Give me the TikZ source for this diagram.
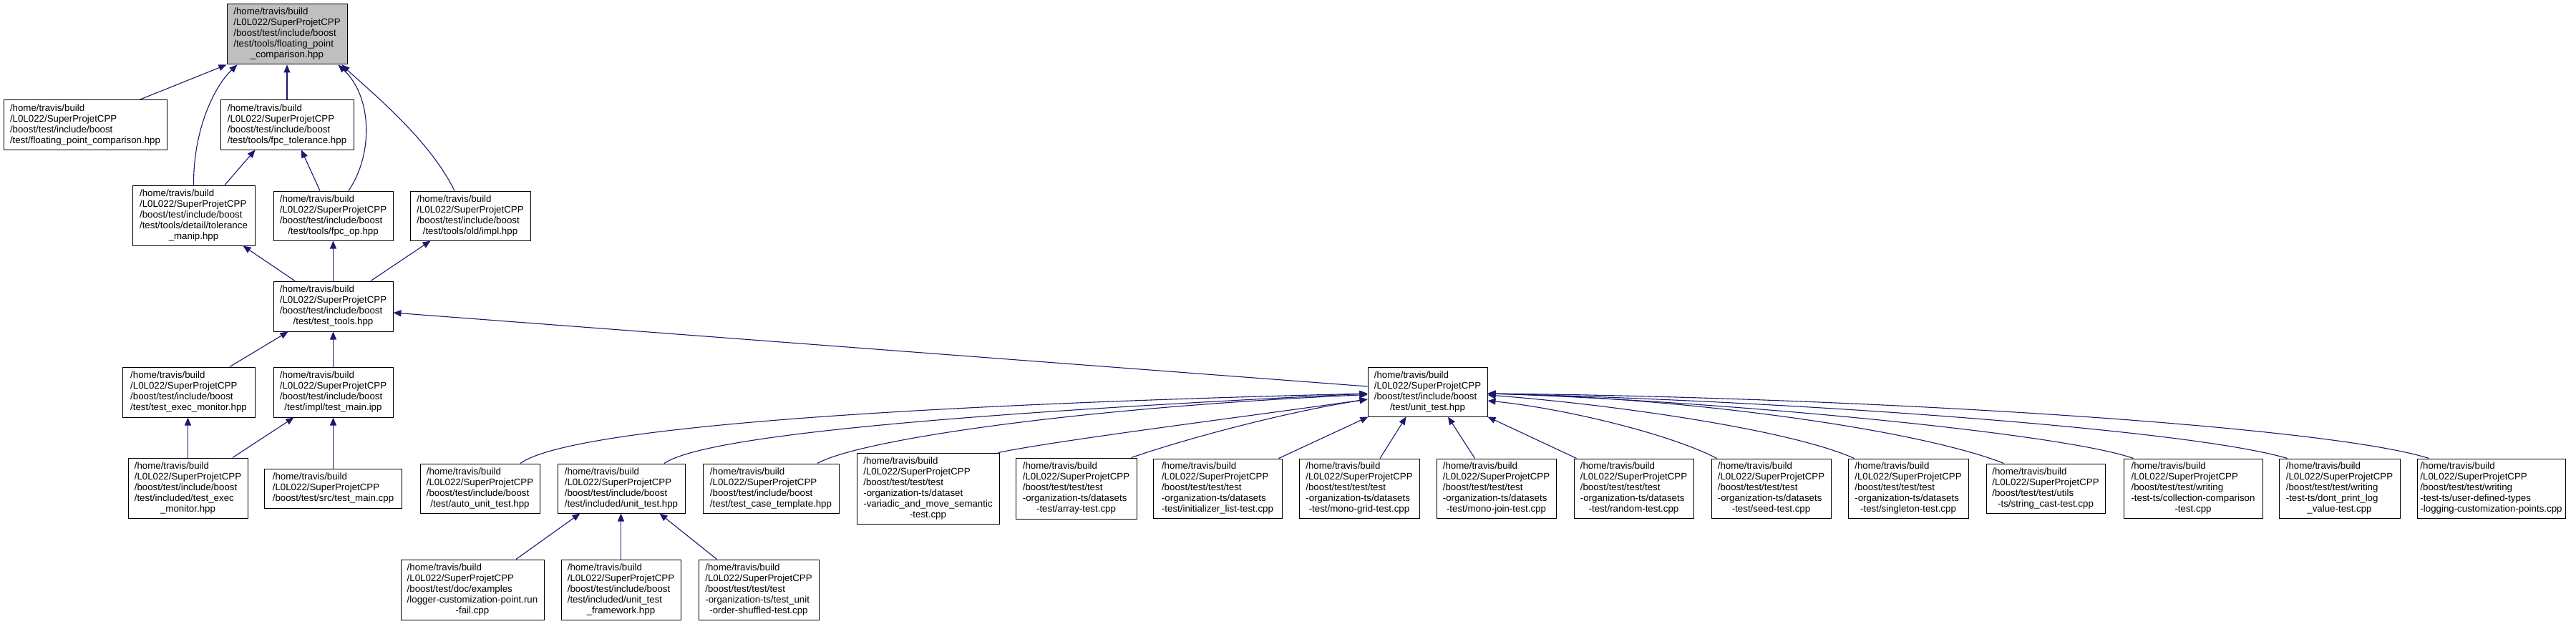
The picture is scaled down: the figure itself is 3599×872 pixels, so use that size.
\documentclass[tikz,border=0pt]{standalone}
\usepackage{fontspec}
\setmainfont{Liberation Sans}
\usetikzlibrary{arrows.meta}
\definecolor{edgec}{HTML}{191970}
\definecolor{hl}{HTML}{BFBFBF}
\newcommand{\lab}[2]{\begin{tabular}{@{}l@{}}#1\\\multicolumn{1}{@{}c@{}}{#2}\end{tabular}}
\begin{document}
\begin{tikzpicture}[x=1pt,y=-1pt,
  font=\fontsize{13.3}{15}\selectfont,
  box/.style={draw=black, line width=1pt, fill=white, inner sep=0pt, anchor=center},
  edge/.style={draw=edgec, line width=1.1pt, -{Triangle[length=11pt,width=9pt]}}]
\useasboundingbox (0,0) rectangle (3599,872);
% nodes
\node[box, fill=hl, minimum width=168pt, minimum height=84pt] (top) at (401,48)
 {\lab{/home/travis/build\\/L0L022/SuperProjetCPP\\/boost/test/include/boost\\/test/tools/floating\_point}{\_comparison.hpp}};
\node[box, minimum width=228pt, minimum height=69pt] (fpct) at (119,174.5)
 {\lab{/home/travis/build\\/L0L022/SuperProjetCPP\\/boost/test/include/boost}{/test/floating\_point\_comparison.hpp}};
\node[box, minimum width=186pt, minimum height=69pt] (fpctol) at (401,174.5)
 {\lab{/home/travis/build\\/L0L022/SuperProjetCPP\\/boost/test/include/boost}{/test/tools/fpc\_tolerance.hpp}};
\node[box, minimum width=171pt, minimum height=84pt] (tolm) at (270.5,301)
 {\lab{/home/travis/build\\/L0L022/SuperProjetCPP\\/boost/test/include/boost\\/test/tools/detail/tolerance}{\_manip.hpp}};
\node[box, minimum width=167pt, minimum height=69pt] (fpcop) at (465.5,301.5)
 {\lab{/home/travis/build\\/L0L022/SuperProjetCPP\\/boost/test/include/boost}{/test/tools/fpc\_op.hpp}};
\node[box, minimum width=168pt, minimum height=69pt] (oldimpl) at (657,301.5)
 {\lab{/home/travis/build\\/L0L022/SuperProjetCPP\\/boost/test/include/boost}{/test/tools/old/impl.hpp}};
\node[box, minimum width=167pt, minimum height=70pt] (ttools) at (465.5,428)
 {\lab{/home/travis/build\\/L0L022/SuperProjetCPP\\/boost/test/include/boost}{/test/test\_tools.hpp}};
\node[box, minimum width=185pt, minimum height=70pt] (tem) at (263.5,548)
 {\lab{/home/travis/build\\/L0L022/SuperProjetCPP\\/boost/test/include/boost}{/test/test\_exec\_monitor.hpp}};
\node[box, minimum width=167pt, minimum height=70pt] (tmipp) at (465.5,548)
 {\lab{/home/travis/build\\/L0L022/SuperProjetCPP\\/boost/test/include/boost}{/test/impl/test\_main.ipp}};
\node[box, minimum width=167pt, minimum height=84pt] (temi) at (262.5,682)
 {\lab{/home/travis/build\\/L0L022/SuperProjetCPP\\/boost/test/include/boost\\/test/included/test\_exec}{\_monitor.hpp}};
\node[box, minimum width=192pt, minimum height=55pt] (tmcpp) at (465.5,682.5)
 {\lab{/home/travis/build\\/L0L022/SuperProjetCPP}{/boost/test/src/test\_main.cpp}};
\node[box, minimum width=167pt, minimum height=69pt] (ut) at (1994.5,547.5)
 {\lab{/home/travis/build\\/L0L022/SuperProjetCPP\\/boost/test/include/boost}{/test/unit\_test.hpp}};
\node[box, minimum width=167pt, minimum height=69pt] (auto) at (670.5,682.5)
 {\lab{/home/travis/build\\/L0L022/SuperProjetCPP\\/boost/test/include/boost}{/test/auto\_unit\_test.hpp}};
\node[box, minimum width=178pt, minimum height=69pt] (iut) at (868,682.5)
 {\lab{/home/travis/build\\/L0L022/SuperProjetCPP\\/boost/test/include/boost}{/test/included/unit\_test.hpp}};
\node[box, minimum width=190pt, minimum height=69pt] (tct) at (1077,682.5)
 {\lab{/home/travis/build\\/L0L022/SuperProjetCPP\\/boost/test/include/boost}{/test/test\_case\_template.hpp}};
\node[box, minimum width=199pt, minimum height=99pt] (vari) at (1296.5,682.5)
 {\lab{/home/travis/build\\/L0L022/SuperProjetCPP\\/boost/test/test/test\\-organization-ts/dataset\\-variadic\_and\_move\_semantic}{-test.cpp}};
\node[box, minimum width=169pt, minimum height=85pt] (array) at (1503.5,682.5)
 {\lab{/home/travis/build\\/L0L022/SuperProjetCPP\\/boost/test/test/test\\-organization-ts/datasets}{-test/array-test.cpp}};
\node[box, minimum width=180pt, minimum height=83pt] (init) at (1701,682.5)
 {\lab{/home/travis/build\\/L0L022/SuperProjetCPP\\/boost/test/test/test\\-organization-ts/datasets}{-test/initializer\_list-test.cpp}};
\node[box, minimum width=168pt, minimum height=83pt] (grid) at (1899,682.5)
 {\lab{/home/travis/build\\/L0L022/SuperProjetCPP\\/boost/test/test/test\\-organization-ts/datasets}{-test/mono-grid-test.cpp}};
\node[box, minimum width=167pt, minimum height=83pt] (join) at (2090.5,682.5)
 {\lab{/home/travis/build\\/L0L022/SuperProjetCPP\\/boost/test/test/test\\-organization-ts/datasets}{-test/mono-join-test.cpp}};
\node[box, minimum width=167pt, minimum height=83pt] (random) at (2282.5,682.5)
 {\lab{/home/travis/build\\/L0L022/SuperProjetCPP\\/boost/test/test/test\\-organization-ts/datasets}{-test/random-test.cpp}};
\node[box, minimum width=167pt, minimum height=83pt] (seed) at (2474.5,682.5)
 {\lab{/home/travis/build\\/L0L022/SuperProjetCPP\\/boost/test/test/test\\-organization-ts/datasets}{-test/seed-test.cpp}};
\node[box, minimum width=168pt, minimum height=83pt] (single) at (2666,682.5)
 {\lab{/home/travis/build\\/L0L022/SuperProjetCPP\\/boost/test/test/test\\-organization-ts/datasets}{-test/singleton-test.cpp}};
\node[box, minimum width=166pt, minimum height=69pt] (strc) at (2858,682.5)
 {\lab{/home/travis/build\\/L0L022/SuperProjetCPP\\/boost/test/test/utils}{-ts/string\_cast-test.cpp}};
\node[box, minimum width=194pt, minimum height=83pt] (coll) at (3064,682.5)
 {\lab{/home/travis/build\\/L0L022/SuperProjetCPP\\/boost/test/test/writing\\-test-ts/collection-comparison}{-test.cpp}};
\node[box, minimum width=169pt, minimum height=83pt] (dont) at (3268.5,682.5)
 {\lab{/home/travis/build\\/L0L022/SuperProjetCPP\\/boost/test/test/writing\\-test-ts/dont\_print\_log}{\_value-test.cpp}};
\node[box, minimum width=207pt, minimum height=83pt] (userdef) at (3480.5,682.5)
 {\lab{/home/travis/build\\/L0L022/SuperProjetCPP\\/boost/test/test/writing\\-test-ts/user-defined-types}{-logging-customization-points.cpp}};
\node[box, minimum width=200pt, minimum height=84pt] (logger) at (660,824)
 {\lab{/home/travis/build\\/L0L022/SuperProjetCPP\\/boost/test/doc/examples\\/logger-customization-point.run}{-fail.cpp}};
\node[box, minimum width=167pt, minimum height=84pt] (utf) at (867.5,824)
 {\lab{/home/travis/build\\/L0L022/SuperProjetCPP\\/boost/test/include/boost\\/test/included/unit\_test}{\_framework.hpp}};
\node[box, minimum width=168pt, minimum height=84pt] (shuf) at (1060,824)
 {\lab{/home/travis/build\\/L0L022/SuperProjetCPP\\/boost/test/test/test\\-organization-ts/test\_unit}{-order-shuffled-test.cpp}};
% edges (upper part)
\draw[edge] ([xshift=190pt]fpct.north west) -- (top.south west);
\draw[edge] (tolm.north) .. controls (270,180) and (300,120) .. ([xshift=15pt]top.south west);
\draw[edge] (fpctol.north) -- (top.south);
\draw[edge] ([xshift=21.5pt]fpcop.north) .. controls (522,215) and (520,135) .. ([xshift=-13pt]top.south east);
\draw[edge] ([xshift=-22pt]oldimpl.north) .. controls (600,195) and (520,130) .. ([xshift=-8pt]top.south east);
\draw[edge] ([xshift=43.5pt]tolm.north) -- ([xshift=49pt]fpctol.south west);
\draw[edge] ([xshift=-18.5pt]fpcop.north) -- ([xshift=20pt]fpctol.south);
\draw[edge] ([xshift=-53.5pt]ttools.north) -- ([xshift=-17pt]tolm.south east);
\draw[edge] (ttools.north) -- (fpcop.south);
\draw[edge] ([xshift=52.5pt]ttools.north) -- ([xshift=29pt]oldimpl.south west);
\draw[edge] ([xshift=57.5pt]tem.north) -- ([xshift=21pt]ttools.south west);
\draw[edge] (tmipp.north) -- (ttools.south);
\draw[edge] ([yshift=7.5pt]ut.west) -- ([yshift=-9pt]ttools.east);
\draw[edge] (temi.north) -- (temi.north |- tem.south);
\draw[edge] ([xshift=62.5pt]temi.north) -- ([xshift=29pt]tmipp.south west);
\draw[edge] (tmcpp.north) -- (tmipp.south);
% edges into unit_test.hpp
\draw[edge] ([xshift=56.5pt]auto.north) .. controls (800,595) and (1300,565) .. ([yshift=-2.5pt]ut.west);
\draw[edge] ([xshift=60pt]iut.north) .. controls (990,605) and (1400,575) .. ([yshift=-2.5pt]ut.west);
\draw[edge] ([xshift=65pt]tct.north) .. controls (1200,615) and (1500,570) .. ([yshift=-4pt]ut.west);
\draw[edge] ([xshift=-2pt]vari.north east) .. controls (1480,615) and (1720,585) .. ([yshift=-10.5pt]ut.west);
\draw[edge] ([xshift=-8pt]array.north east) .. controls (1660,612) and (1800,575) .. ([yshift=-10.5pt]ut.west);
\draw[edge] ([xshift=-5pt]init.north east) -- ([xshift=1pt]ut.south west);
\draw[edge] ([xshift=29pt]grid.north) -- ([xshift=54pt]ut.south west);
\draw[edge] ([xshift=-30pt]join.north) -- ([xshift=28.5pt]ut.south);
\draw[edge] ([xshift=4pt]random.north west) -- (ut.south east);
\draw[edge] ([xshift=8pt]seed.north west) .. controls (2330,605) and (2180,570) .. ([yshift=-12.5pt]ut.east);
\draw[edge] ([xshift=9pt]single.north west) .. controls (2500,600) and (2250,565) .. ([yshift=-4.5pt]ut.east);
\draw[edge] ([xshift=25pt]strc.north west) .. controls (2680,600) and (2350,555) .. ([yshift=-2.5pt]ut.east);
\draw[edge] ([xshift=14pt]coll.north west) .. controls (2880,605) and (2400,560) .. ([yshift=-2.5pt]ut.east);
\draw[edge] ([xshift=12pt]dont.north west) .. controls (3060,600) and (2500,560) .. ([yshift=-2.5pt]ut.east);
\draw[edge] ([xshift=17pt]userdef.north west) .. controls (3250,595) and (2600,555) .. ([yshift=-2.5pt]ut.east);
% edges into included/unit_test.hpp
\draw[edge] ([xshift=61pt]logger.north) -- ([xshift=32pt]iut.south west);
\draw[edge] (utf.north) -- (utf.north |- iut.south);
\draw[edge] ([xshift=26pt]shuf.north west) -- ([xshift=-36pt]iut.south east);
\end{tikzpicture}
\end{document}
